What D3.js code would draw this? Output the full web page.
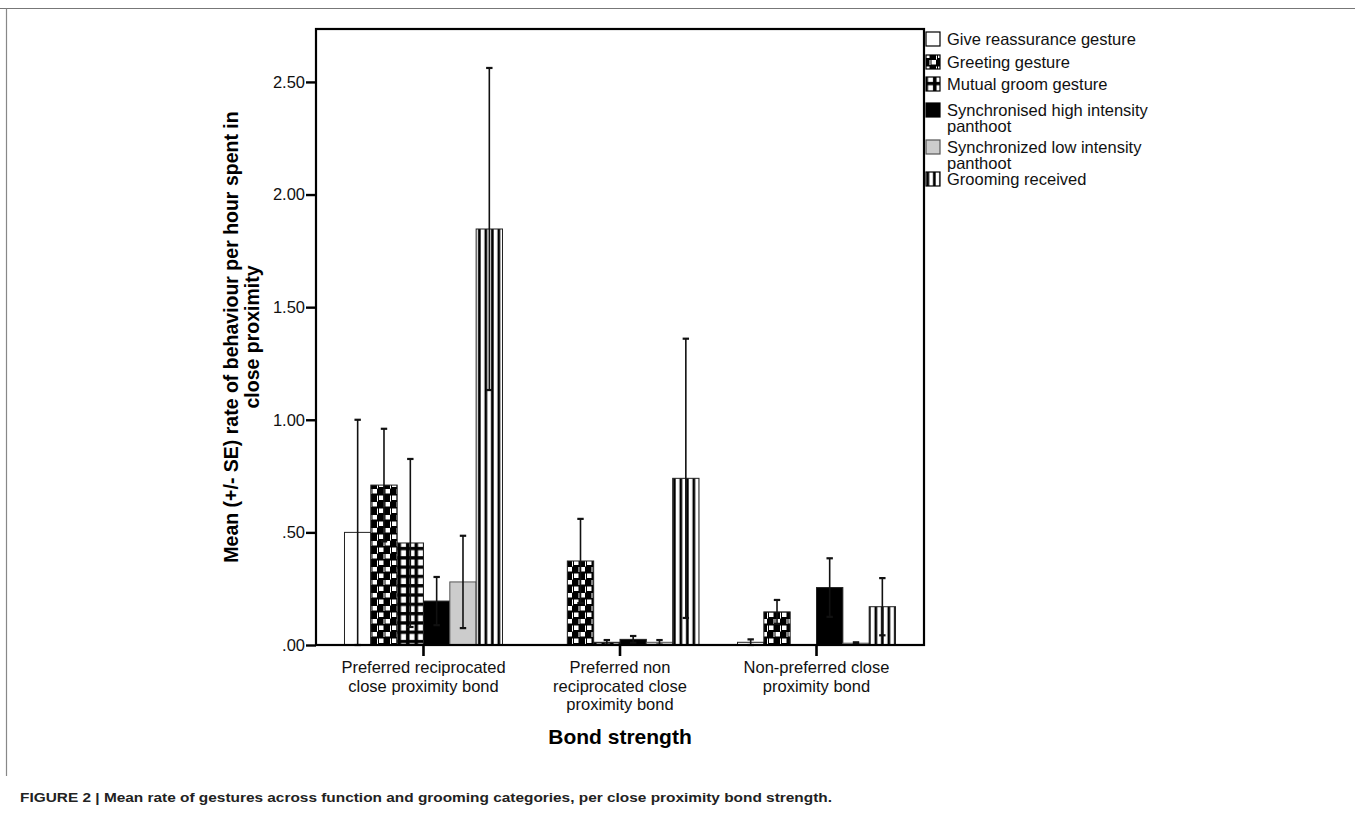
<!DOCTYPE html>
<html>
<head>
<meta charset="utf-8">
<script src="https://d3js.org/d3.v7.min.js"></script>
<style>
  body { margin: 0; background: #fff; }
  svg { display: block; }
  text { font-family: 'Liberation Sans', Arial, sans-serif; }
</style>
</head>
<body>
<div id="chart"></div>
<script>
// categories along the x axis (as wrapped in the picture)
const categories = ['Preferred reciprocated close proximity bond',
                    'Preferred non reciprocated close proximity bond',
                    'Non-preferred close proximity bond'];
const categoryLines = [
  ['Preferred reciprocated', 'close proximity bond'],
  ['Preferred non', 'reciprocated close', 'proximity bond'],
  ['Non-preferred close', 'proximity bond'],
];

const seriesNames = ['Give reassurance gesture', 'Greeting gesture', 'Mutual groom gesture',
                     'Synchronised high intensity panthoot', 'Synchronized low intensity panthoot',
                     'Grooming received'];
const legendLines = [
  ['Give reassurance gesture'],
  ['Greeting gesture'],
  ['Mutual groom gesture'],
  ['Synchronised high intensity', 'panthoot'],
  ['Synchronized low intensity', 'panthoot'],
  ['Grooming received'],
];

// mean rate per series, one value per category
const giveMean     = [0.50, 0.000, 0.012];
const greetMean    = [0.71, 0.373, 0.147];
const mutualMean   = [0.453, 0.012, 0.000];
const syncHighMean = [0.195, 0.025, 0.255];
const syncLowMean  = [0.28, 0.012, 0.008];
const groomMean    = [1.847, 0.74, 0.17];

// error (SE) per series
const giveErr     = [0.50, 0.000, 0.013];
const greetErr    = [0.25, 0.187, 0.053];
const mutualErr   = [0.373, 0.010, 0.000];
const syncHighErr = [0.107, 0.015, 0.13];
const syncLowErr  = [0.205, 0.010, 0.004];
const groomErr    = [0.715, 0.62, 0.127];

const yTicks = [0, 0.5, 1.0, 1.5, 2.0, 2.5];

const means = [giveMean, greetMean, mutualMean, syncHighMean, syncLowMean, groomMean];
const errs  = [giveErr, greetErr, mutualErr, syncHighErr, syncLowErr, groomErr];
const fills = ['#fff', 'url(#pGreet)', 'url(#pMutual)', '#000', '#cccccc', 'url(#pStripe)'];

const W = 1355, H = 823;
const plot = {left: 316, right: 924, top: 29, bottom: 645};
const fs = 16.5;  // body text size

const root = d3.select('#chart').append('svg')
  .attr('width', W).attr('height', H);

// patterns
const defs = root.append('defs');
const pg = defs.append('pattern').attr('id', 'pGreet')
  .attr('patternUnits', 'userSpaceOnUse').attr('width', 13).attr('height', 13);
pg.append('rect').attr('width', 13).attr('height', 13).attr('fill', '#000');
pg.append('rect').attr('x', 2).attr('y', 1.5).attr('width', 4.5).attr('height', 4.5).attr('fill', '#fff');
pg.append('rect').attr('x', 8.5).attr('y', 8).attr('width', 4.5).attr('height', 4.5).attr('fill', '#fff');
pg.append('rect').attr('x', 0).attr('y', 1.5).attr('width', 1).attr('height', 6).attr('fill', '#fff');
pg.append('rect').attr('x', 6.5).attr('y', 8).attr('width', 1).attr('height', 5).attr('fill', '#fff');

const pm = defs.append('pattern').attr('id', 'pMutual')
  .attr('patternUnits', 'userSpaceOnUse').attr('width', 8.5).attr('height', 9.3);
pm.append('rect').attr('width', 8.5).attr('height', 9.3).attr('fill', '#000');
pm.append('rect').attr('x', 1.5).attr('y', 1.5).attr('width', 5).attr('height', 6).attr('fill', '#fff');

const ps = defs.append('pattern').attr('id', 'pStripe')
  .attr('patternUnits', 'userSpaceOnUse').attr('width', 6.5).attr('height', 10);
ps.append('rect').attr('width', 6.5).attr('height', 10).attr('fill', '#fff');
ps.append('rect').attr('x', 3.5).attr('width', 2.7).attr('height', 10).attr('fill', '#000');

// frame lines of the figure
root.append('line').attr('x1', 0).attr('x2', W).attr('y1', 8.5).attr('y2', 8.5)
  .attr('stroke', '#777').attr('stroke-width', 1.2);
root.append('line').attr('x1', 6.5).attr('x2', 6.5).attr('y1', 8.5).attr('y2', 776)
  .attr('stroke', '#888').attr('stroke-width', 1.2);

const x0 = d3.scaleBand().domain(categories).range([plot.left, plot.right])
  .paddingInner(0).paddingOuter(0.047);
const groupW = 158;
const x1 = d3.scaleBand().domain(seriesNames)
  .range([(x0.step() - groupW) / 2, (x0.step() + groupW) / 2]);
const y = d3.scaleLinear().domain([0, 2.735]).range([plot.bottom, plot.top]);

// bars
const g = root.append('g');
categories.forEach((cat, ci) => {
  const gx = x0(cat);
  seriesNames.forEach((s, si) => {
    const v = means[si][ci];
    if (v <= 0) return;
    g.append('rect')
      .attr('x', gx + x1(s)).attr('y', y(v))
      .attr('width', x1.bandwidth()).attr('height', y(0) - y(v))
      .attr('fill', fills[si])
      .attr('stroke', si === 4 ? '#555' : '#222').attr('stroke-width', 1);
  });
});

// error bars
categories.forEach((cat, ci) => {
  const gx = x0(cat);
  seriesNames.forEach((s, si) => {
    const v = means[si][ci], e = errs[si][ci];
    if (v <= 0 && e <= 0) return;
    const cx = gx + x1(s) + x1.bandwidth() / 2;
    const lo = Math.max(0, v - e), hi = v + e;
    g.append('line').attr('x1', cx).attr('x2', cx)
      .attr('y1', y(lo)).attr('y2', y(hi))
      .attr('stroke', '#111').attr('stroke-width', 1.6);
    [lo, hi].forEach(t => {
      g.append('line').attr('x1', cx - 3.2).attr('x2', cx + 3.2)
        .attr('y1', y(t)).attr('y2', y(t))
        .attr('stroke', '#111').attr('stroke-width', 2.2);
    });
  });
});

// plot frame
root.append('rect')
  .attr('x', plot.left).attr('y', plot.top)
  .attr('width', plot.right - plot.left).attr('height', plot.bottom - plot.top)
  .attr('fill', 'none').attr('stroke', '#000').attr('stroke-width', 2.2);

// y axis
const fmt = d => d3.format('.2f')(d).replace(/^0\./, '.');
const yAxis = root.append('g').attr('transform', `translate(${plot.left},0)`)
  .call(d3.axisLeft(y).tickValues(yTicks).tickFormat(fmt).tickSize(10).tickPadding(1));
yAxis.select('.domain').remove();
yAxis.selectAll('line').attr('stroke', '#000').attr('stroke-width', 2.4);
yAxis.selectAll('text').attr('font-size', fs).attr('fill', '#111')
  .attr('font-family', "'Liberation Sans', Arial, sans-serif");

// x axis
const xAxis = root.append('g').attr('transform', `translate(0,${plot.bottom})`)
  .call(d3.axisBottom(x0).tickSize(11).tickFormat(''));
xAxis.select('.domain').remove();
xAxis.selectAll('line').attr('stroke', '#000').attr('stroke-width', 2.6);

categories.forEach((cat, ci) => {
  const cx = x0(cat) + x0.bandwidth() / 2;
  const t = root.append('text')
    .attr('x', cx).attr('y', 673)
    .attr('text-anchor', 'middle').attr('font-size', fs).attr('fill', '#111');
  categoryLines[ci].forEach((ln, li) => {
    t.append('tspan').attr('x', cx).attr('dy', li === 0 ? 0 : 18.5).text(ln);
  });
});

// axis titles
root.append('text')
  .attr('x', (plot.left + plot.right) / 2).attr('y', 744)
  .attr('text-anchor', 'middle').attr('font-size', 21).attr('font-weight', 'bold')
  .text('Bond strength');

const yt = root.append('text')
  .attr('transform', `translate(238,${(plot.top + plot.bottom) / 2}) rotate(-90)`)
  .attr('text-anchor', 'middle').attr('font-size', 19.5).attr('font-weight', 'bold');
yt.append('tspan').attr('x', 0).attr('dy', 0).text('Mean (+/- SE) rate of behaviour per hour spent in');
yt.append('tspan').attr('x', 0).attr('dy', 21).text('close proximity');

// legend
const legTop = [32, 55, 77, 103, 140, 172];
seriesNames.forEach((s, si) => {
  const ly = legTop[si];
  root.append('rect').attr('x', 926).attr('y', ly)
    .attr('width', 14).attr('height', 14)
    .attr('fill', fills[si]).attr('stroke', si === 4 ? '#555' : '#000').attr('stroke-width', 1.2);
  const t = root.append('text').attr('x', 947).attr('y', ly + 13)
    .attr('font-size', fs).attr('fill', '#111');
  legendLines[si].forEach((ln, li) => {
    t.append('tspan').attr('x', 947).attr('dy', li === 0 ? 0 : 15.5).text(ln);
  });
});

// caption
root.append('text').attr('x', 20).attr('y', 802)
  .attr('font-size', 13.5).attr('font-weight', 'bold').attr('fill', '#222')
  .attr('textLength', 812).attr('lengthAdjust', 'spacingAndGlyphs')
  .text('FIGURE 2 | Mean rate of gestures across function and grooming categories, per close proximity bond strength.');
</script>
</body>
</html>
